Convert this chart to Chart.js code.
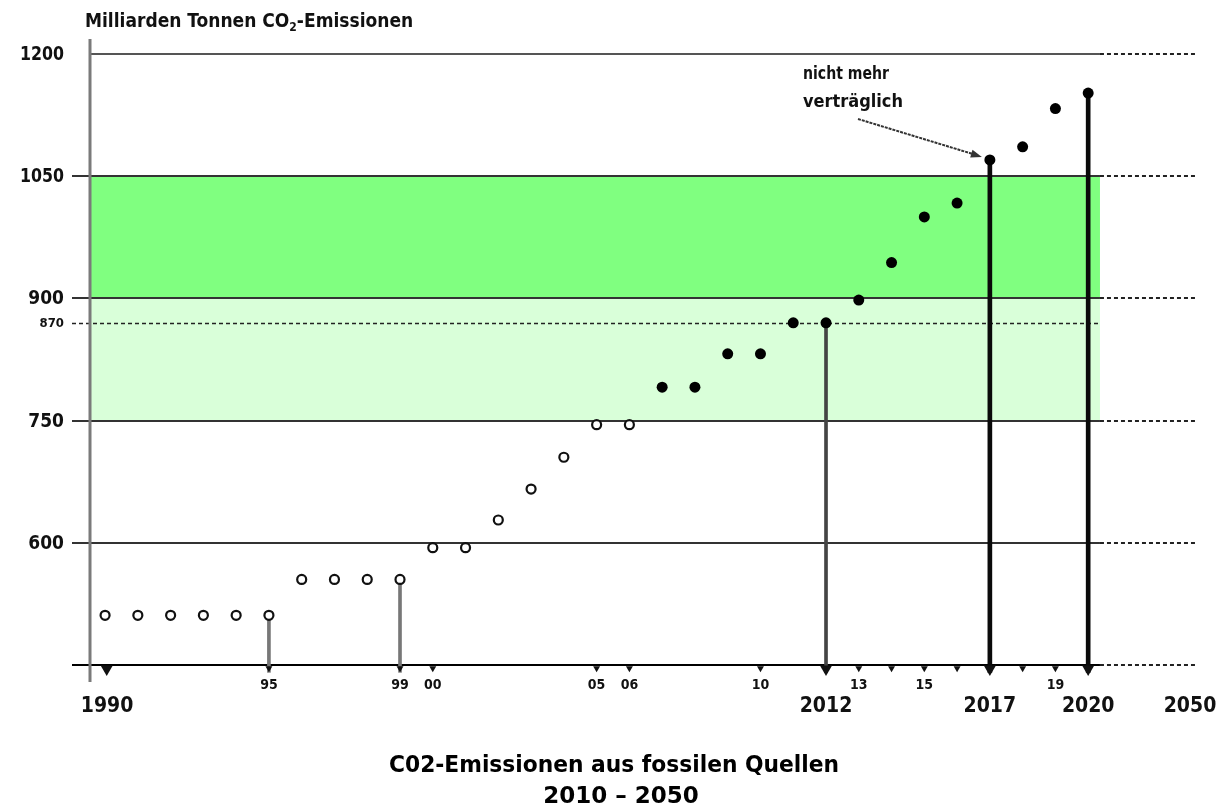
<!DOCTYPE html>
<html>
<head>
<meta charset="utf-8">
<script src="https://cdn.jsdelivr.net/npm/chart.js@4.4.0/dist/chart.umd.min.js"></script>
<style>
  html, body { margin: 0; padding: 0; background: #fff; }
  #wrap { width: 1228px; height: 809px; }
</style>
</head>
<body>
<div id="wrap"><canvas id="myChart" width="1228" height="809"></canvas></div>
<script>
'use strict';

// emissions (open circles = past, filled = later years)
const openYears = [1990, 1991, 1992, 1993, 1994, 1995, 1996, 1997, 1998, 1999, 2000, 2001, 2002, 2003, 2004, 2005, 2006];
const openValues = [511, 511, 511, 511, 511, 511, 555, 555, 555, 555, 594, 594, 628, 666, 705, 745, 745];
const filledYears = [2007, 2008, 2009, 2010, 2011, 2012, 2013, 2014, 2015, 2016, 2017, 2018, 2019, 2020];
const filledValues = [791, 791, 832, 832, 870, 870, 898, 944, 1000, 1017, 1070, 1086, 1133, 1152];

// vertical stems down to the base line
const grayStemYears = [1995, 1999, 2012];
const grayStemValues = [511, 555, 870];
const blackStemYears = [2017, 2020];
const blackStemValues = [1070, 1152];

// little markers hanging under the base line
const smallMarkerYears = [1995, 1999, 2000, 2005, 2006, 2010, 2013, 2014, 2015, 2016, 2018, 2019];
const bigMarkerYears = [1990, 2012, 2017, 2020];

// axis
const yMin = 450;
const yMax = 1200;
const xMin = 1989.54;
const xMax = 2023.26;
const solidEndYear = 2020.36; // where the solid lines stop and the dotted part begins
const gridValues = [1200, 1050, 900, 750, 600, 450];
const yTickValues = [1200, 1050, 900, 750, 600];
const yTickLabels = ['1200', '1050', '900', '750', '600'];
const thresholdValue = 870;
const smallTickYears = [1995, 1999, 2000, 2005, 2006, 2010, 2013, 2015, 2019];
const smallTickLabels = ['95', '99', '00', '05', '06', '10', '13', '15', '19'];
const bigTickYears = [1990, 2012, 2017, 2020, xMax];
const bigTickLabels = ['1990', '2012', '2017', '2020', '2050'];

// bands
const bandDark = [900, 1050];
const bandLight = [750, 900];

const narrowFont = "'DejaVu Sans Condensed', 'Liberation Sans Narrow', 'DejaVu Sans', sans-serif";
const titleFont = "'DejaVu Sans', Verdana, sans-serif";

function toPoints(xs, ys) {
  return xs.map((x, i) => ({ x: x, y: ys[i] }));
}

function toStems(xs, ys) {
  return xs.map((x, i) => ({ x: x, y: [441, ys[i]] }));
}

const decorPlugin = {
  id: 'decor',
  beforeDatasetsDraw(chart) {
    const ctx = chart.ctx;
    const xs = chart.scales.x;
    const ys = chart.scales.y;
    const left = xs.left;
    const solidEnd = xs.getPixelForValue(solidEndYear);
    const right = xs.right;

    ctx.save();
    // bands
    ctx.fillStyle = '#80ff80';
    ctx.fillRect(left, ys.getPixelForValue(bandDark[1]), solidEnd - left,
      ys.getPixelForValue(bandDark[0]) - ys.getPixelForValue(bandDark[1]));
    ctx.fillStyle = '#d9ffd9';
    ctx.fillRect(left, ys.getPixelForValue(bandLight[1]), solidEnd - left,
      ys.getPixelForValue(bandLight[0]) - ys.getPixelForValue(bandLight[1]));

    // horizontal lines, solid then dotted
    gridValues.forEach(v => {
      const y = Math.round(ys.getPixelForValue(v));
      const start = v === yMax ? left : left - 18;
      ctx.strokeStyle = v === yMin ? '#000' : (v === yMax ? '#555' : '#333');
      ctx.lineWidth = 2;
      ctx.setLineDash([]);
      ctx.beginPath();
      ctx.moveTo(start, y);
      ctx.lineTo(solidEnd, y);
      ctx.stroke();
      ctx.setLineDash([4, 3]);
      ctx.strokeStyle = '#222';
      ctx.beginPath();
      ctx.moveTo(solidEnd, y);
      ctx.lineTo(right, y);
      ctx.stroke();
    });

    // 870 dashed line
    const yT = Math.round(ys.getPixelForValue(thresholdValue)) + 0.5;
    ctx.setLineDash([4, 3]);
    ctx.strokeStyle = '#222';
    ctx.lineWidth = 1.5;
    ctx.beginPath();
    ctx.moveTo(left - 18, yT);
    ctx.lineTo(solidEnd, yT);
    ctx.stroke();
    ctx.setLineDash([]);

    // y axis line
    ctx.strokeStyle = '#7a7a7a';
    ctx.lineWidth = 3;
    ctx.beginPath();
    ctx.moveTo(left, ys.top - 15);
    ctx.lineTo(left, ys.bottom + 17);
    ctx.stroke();
    ctx.restore();
  },
  afterDraw(chart) {
    const ctx = chart.ctx;
    const xs = chart.scales.x;
    const ys = chart.scales.y;
    ctx.save();
    ctx.fillStyle = '#111';

    // y tick labels
    ctx.textAlign = 'right';
    ctx.textBaseline = 'middle';
    ctx.font = 'bold 19px ' + narrowFont;
    yTickValues.forEach((v, i) => {
      ctx.fillText(yTickLabels[i], xs.left - 26, ys.getPixelForValue(v) + 1, 44);
    });
    ctx.font = 'bold 13px ' + narrowFont;
    ctx.fillText(String(thresholdValue), xs.left - 26, ys.getPixelForValue(thresholdValue) + 1);

    // x tick labels
    ctx.textAlign = 'center';
    ctx.font = 'bold 14px ' + narrowFont;
    smallTickYears.forEach((v, i) => {
      ctx.fillText(smallTickLabels[i], xs.getPixelForValue(v), ys.bottom + 20);
    });
    ctx.font = 'bold 21px ' + narrowFont;
    bigTickYears.forEach((v, i) => {
      ctx.fillText(bigTickLabels[i], xs.getPixelForValue(v) + (i === 0 ? 2 : 0) - (i === 4 ? 5 : 0), ys.bottom + 42);
    });

    // unit label, top left
    ctx.textAlign = 'left';
    ctx.font = 'bold 19px ' + narrowFont;
    let tx = xs.left - 5;
    const ty = 22;
    const part1 = 'Milliarden Tonnen CO';
    ctx.fillText(part1, tx, ty);
    tx += ctx.measureText(part1).width;
    ctx.font = 'bold 12px ' + narrowFont;
    ctx.fillText('2', tx, ty + 6);
    tx += ctx.measureText('2').width;
    ctx.font = 'bold 19px ' + narrowFont;
    ctx.fillText('-Emissionen', tx, ty);

    // annotation with arrow to the 2017 point
    ctx.font = 'bold 18px ' + narrowFont;
    ctx.fillText('nicht mehr', 803, 74, 86);
    ctx.fillText('verträglich', 803, 102, 105);
    const tipX = xs.getPixelForValue(2017) - 8;
    const tipY = ys.getPixelForValue(1070) - 3;
    const startX = 858;
    const startY = 119;
    ctx.strokeStyle = '#333';
    ctx.lineWidth = 2;
    ctx.setLineDash([3, 1]);
    ctx.beginPath();
    ctx.moveTo(startX, startY);
    ctx.lineTo(tipX - 6, tipY - 2);
    ctx.stroke();
    ctx.setLineDash([]);
    const ang = Math.atan2(tipY - startY, tipX - startX);
    ctx.fillStyle = '#333';
    ctx.beginPath();
    ctx.moveTo(tipX, tipY);
    ctx.lineTo(tipX - 11 * Math.cos(ang) + 4 * Math.sin(ang), tipY - 11 * Math.sin(ang) - 4 * Math.cos(ang));
    ctx.lineTo(tipX - 11 * Math.cos(ang) - 4 * Math.sin(ang), tipY - 11 * Math.sin(ang) + 4 * Math.cos(ang));
    ctx.closePath();
    ctx.fill();

    // bottom title
    ctx.fillStyle = '#000';
    ctx.textAlign = 'center';
    ctx.font = 'bold 23px ' + titleFont;
    ctx.fillText('C02-Emissionen aus fossilen Quellen', 614, 766, 450);
    ctx.fillText('2010 – 2050', 621, 797, 158);
    ctx.restore();
  }
};

function renderChart() {
  const data = {
    datasets: [
      {
        type: 'scatter',
        label: 'open',
        data: toPoints(openYears, openValues),
        pointRadius: 4.5,
        pointHoverRadius: 4.5,
        pointBackgroundColor: '#fff',
        pointBorderColor: '#111',
        pointBorderWidth: 2.2,
        clip: false,
        order: 1,
      },
      {
        type: 'scatter',
        label: 'filled',
        data: toPoints(filledYears, filledValues),
        pointRadius: 5.5,
        pointHoverRadius: 5.5,
        pointBackgroundColor: '#000',
        pointBorderColor: '#000',
        pointBorderWidth: 0,
        clip: false,
        order: 1,
      },
      {
        type: 'scatter',
        label: 'small markers',
        data: smallMarkerYears.map(x => ({ x: x, y: 446 })),
        pointStyle: 'triangle',
        rotation: 180,
        pointRadius: 4,
        pointBackgroundColor: '#111',
        pointBorderWidth: 0,
        clip: false,
        order: 1,
      },
      {
        type: 'scatter',
        label: 'big markers',
        data: bigMarkerYears.map(x => ({ x: x + (x === 1990 ? 0.05 : 0), y: 445 })),
        pointStyle: 'triangle',
        rotation: 180,
        pointRadius: 7,
        pointBackgroundColor: '#111',
        pointBorderWidth: 0,
        clip: false,
        order: 1,
      },
      {
        type: 'bar',
        label: 'gray stems',
        data: toStems(grayStemYears, grayStemValues),
        backgroundColor: ['#777', '#777', '#444'],
        barThickness: 3,
        grouped: false,
        clip: false,
        order: 2,
      },
      {
        type: 'bar',
        label: 'black stems',
        data: toStems(blackStemYears, blackStemValues),
        backgroundColor: '#0a0a0a',
        barThickness: 4,
        grouped: false,
        clip: false,
        order: 2,
      },
    ],
  };

  const config = {
    type: 'scatter',
    data: data,
    plugins: [decorPlugin],
    options: {
      responsive: false,
      animation: false,
      events: [],
      layout: { padding: { left: 90, right: 33, top: 54, bottom: 144 } },
      plugins: {
        legend: { display: false },
        tooltip: { enabled: false },
        title: { display: false },
      },
      scales: {
        x: { type: 'linear', min: xMin, max: xMax, offset: false, display: false },
        y: { type: 'linear', min: yMin, max: yMax, display: false },
      },
    },
  };
  new Chart(document.getElementById('myChart'), config);
}

renderChart();
</script>
</body>
</html>
